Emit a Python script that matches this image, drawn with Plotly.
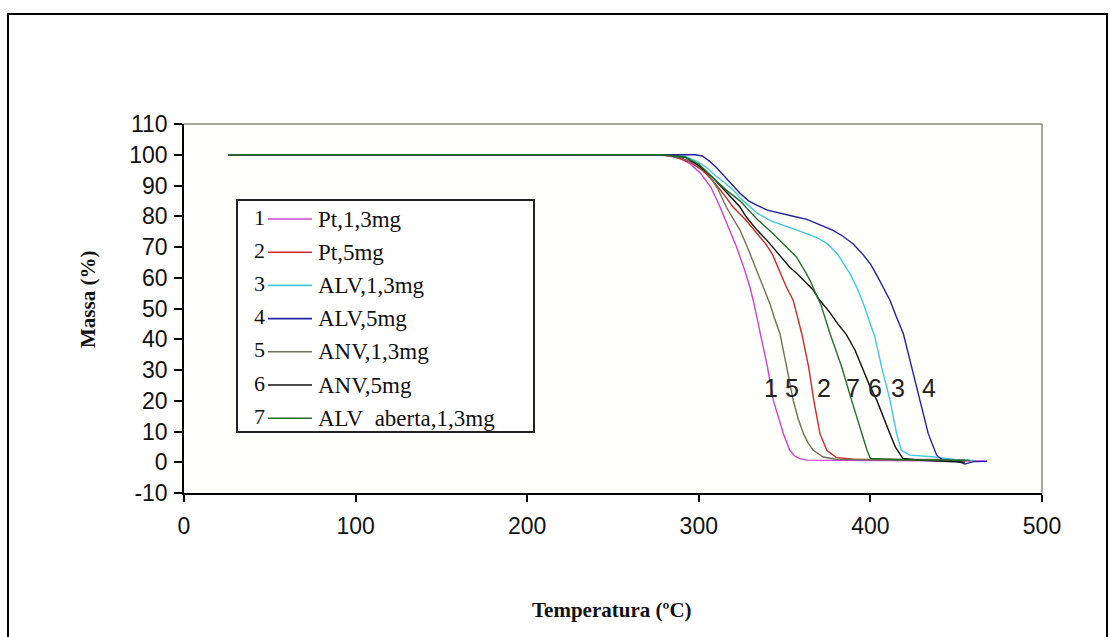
import plotly.graph_objects as go

# ---------------- data ----------------
names = ["Pt,1,3mg", "Pt,5mg", "ALV,1,3mg", "ALV,5mg", "ANV,1,3mg", "ANV,5mg", "ALV  aberta,1,3mg"]
numbers = ["1", "2", "3", "4", "5", "6", "7"]
colors = ["#d040d0", "#cc2a2a", "#40c8e0", "#2222a0", "#707058", "#101010", "#207028"]

t1 = [26, 150, 280, 289, 295, 301, 307, 312, 317, 322, 327, 330, 332, 336, 340, 343.4, 346.5, 349.3, 353, 356, 359, 363, 380, 420, 468]
m1 = [100, 100, 99.8, 98.9, 97, 94, 89.5, 83.5, 77, 70, 62, 56.5, 52, 42, 31, 20.2, 14, 9.3, 3.9, 2, 1.2, 0.7, 0.6, 0.6, 0.4]

t2 = [26, 276, 285, 295, 302, 308, 314, 320, 327, 334, 339, 343, 347, 351, 355, 360, 364, 367, 370.6, 374.6, 380, 390, 455]
m2 = [100, 100, 99.5, 97.5, 95, 91.7, 87.5, 83, 79, 74.5, 71, 67.5, 62.5, 57, 52.7, 41.8, 31, 20.2, 9.3, 3.9, 1.6, 1.0, 0.8]

t3 = [26, 280, 292, 300, 305, 310, 315, 320, 326, 334, 342, 353, 362, 369, 375, 380.5, 384, 388, 392, 396, 399, 402.5, 406.5, 411.4, 415.3, 418, 423, 436, 450, 460]
m3 = [100, 100, 99.5, 97.5, 95.6, 93, 91, 88.5, 85, 81, 78.5, 76.4, 74.5, 73, 71, 68, 65, 61.4, 57, 51.5, 46.5, 41, 31, 20.2, 9.3, 3.9, 2.3, 1.8, 0.8, 0.6]

t4 = [26, 280, 298, 302, 306, 310, 314, 319, 324, 329, 334, 340, 347, 355, 363, 372, 378, 384, 390, 395, 400, 404, 408, 411.4, 415, 419.2, 424, 428.9, 433.7, 438.6, 442, 450, 455, 460, 468]
m4 = [100, 100, 100, 99.6, 98, 96, 93.5, 90.5, 87.5, 85, 83.5, 82, 81, 80, 79, 77, 75.5, 73.5, 71, 68, 64.5, 60.5, 56, 52.7, 47.5, 41.8, 31, 20.2, 9.3, 2.3, 0.8, 0.5, -0.6, 0.2, 0.3]

t5 = [26, 280, 290, 298, 305, 311, 316, 320, 324, 329, 334, 338, 341.5, 344, 347.3, 351.2, 355, 358, 361, 364, 366.7, 372.6, 380, 400, 455]
m5 = [100, 100, 99, 97, 94, 89, 83, 79, 75.5, 69, 62, 56, 51.5, 47, 41.8, 31, 20.2, 14, 9.3, 6, 3.9, 1.7, 1.0, 0.8, 0.6]

t6 = [26, 280, 292, 300, 308, 316, 324, 328, 334, 340, 343, 348, 353, 357, 362, 366.7, 370, 376, 381, 386, 391, 395, 399.5, 403.7, 407.5, 411.4, 414.5, 417, 419, 430, 445, 455]
m6 = [100, 100, 99.2, 96.5, 92.7, 88, 83, 79.5, 75.5, 72, 70, 66.5, 63.4, 61.5, 58.5, 56, 53, 49, 45, 41.5, 36.5, 31, 25, 20.2, 14.5, 9.3, 5, 2.9, 1.2, 0.6, 0.3, 0.0]

t7 = [26, 280, 292, 300, 308, 316, 324, 328, 334, 343, 350, 357, 362, 365, 368, 371, 376.5, 383.3, 389, 395, 398, 400, 420, 458]
m7 = [100, 100, 99.2, 97, 92.7, 88.5, 85, 82.5, 79, 74.5, 70.5, 66.7, 62, 59, 55, 51.5, 41.8, 31, 20.2, 9.3, 4, 1.2, 0.8, 0.6]

temps = [t1, t2, t3, t4, t5, t6, t7]
masses = [m1, m2, m3, m4, m5, m6, m7]

curve_label_x = [342, 372.9, 416, 434, 354.3, 402.8, 390]
curve_label_y = 24

x_ticks = [0, 100, 200, 300, 400, 500]
y_ticks = list(range(-10, 111, 10))
y_ticktext = [str(v) for v in y_ticks]

# ---------------- geometry helpers ----------------
W, H = 1110, 637
L, R, T, B = 184, 1042, 124, 493


def px(x):
    return (x - L) / (R - L)


def py(y):
    return (B - y) / (B - T)


fig = go.Figure()
for i in range(7):
    fig.add_trace(go.Scatter(x=temps[i], y=masses[i], mode="lines", name=names[i],
                             line=dict(color=colors[i], width=1.4), showlegend=False))

tickfont = dict(family="Liberation Sans, Arial, sans-serif", size=23, color="#111")

fig.update_layout(
    width=W, height=H,
    margin=dict(l=L, r=W - R, t=T, b=H - B),
    paper_bgcolor="white", plot_bgcolor="#fffffb",
    xaxis=dict(range=[0, 500], tickvals=x_ticks, showgrid=False, zeroline=False,
               showline=True, linecolor="black", linewidth=1.5,
               ticks="outside", ticklen=7, tickcolor="black", tickwidth=1.5,
               tickfont=tickfont, ticklabelstandoff=5),
    yaxis=dict(range=[-10, 110], tickvals=y_ticks, ticktext=y_ticktext, showgrid=False, zeroline=False,
               showline=True, linecolor="black", linewidth=1.5,
               ticks="outside", ticklen=8, tickcolor="black", tickwidth=1.5,
               tickfont=tickfont, ticklabelstandoff=2),
)

shapes = []
# plot-area top/right border
shapes.append(dict(type="line", xref="paper", yref="paper", x0=0, x1=1, y0=1, y1=1,
                   line=dict(color="#8a8a78", width=1.5)))
shapes.append(dict(type="line", xref="paper", yref="paper", x0=1, x1=1, y0=0, y1=1,
                   line=dict(color="#8a8a78", width=1.5)))
# outer chart border
shapes.append(dict(type="rect", xref="paper", yref="paper", x0=px(8), x1=px(1107), y0=py(645), y1=py(14),
                   line=dict(color="black", width=2)))
# legend box
shapes.append(dict(type="rect", xref="paper", yref="paper", x0=px(237), x1=px(534), y0=py(432), y1=py(200),
                   line=dict(color="#222", width=2), fillcolor="white"))

annotations = []
row0, dy = 219, 33.2
serif = "Liberation Serif, Times New Roman, serif"
for i in range(7):
    yy = row0 + i * dy
    shapes.append(dict(type="line", xref="paper", yref="paper", x0=px(268), x1=px(312), y0=py(yy), y1=py(yy),
                       line=dict(color=colors[i], width=1.6)))
    annotations.append(dict(x=px(259), y=py(yy - 2), xref="paper", yref="paper", text=numbers[i],
                            showarrow=False, font=dict(family=serif, size=22, color="#111"),
                            xanchor="center", yanchor="middle"))
    annotations.append(dict(x=px(316), y=py(yy), xref="paper", yref="paper", text=names[i].replace("  ", "&nbsp;&nbsp;"),
                            showarrow=False, font=dict(family=serif, size=23, color="#111"),
                            xanchor="left", yanchor="middle"))

for i in range(7):
    annotations.append(dict(x=curve_label_x[i], y=curve_label_y, xref="x", yref="y", text=numbers[i],
                            showarrow=False, font=dict(family="Liberation Sans, Arial, sans-serif", size=25, color="#222"),
                            xanchor="center", yanchor="middle"))

# axis titles
annotations.append(dict(x=px(612), y=py(610), xref="paper", yref="paper", text="<b>Temperatura (ºC)</b>",
                        showarrow=False, font=dict(family=serif, size=21, color="#111"),
                        xanchor="center", yanchor="middle"))
annotations.append(dict(x=px(88), y=py(300), xref="paper", yref="paper", text="<b>Massa (%)</b>",
                        showarrow=False, textangle=-90, font=dict(family=serif, size=21, color="#111"),
                        xanchor="center", yanchor="middle"))

fig.update_layout(shapes=shapes, annotations=annotations)
fig.write_html("out.html")
